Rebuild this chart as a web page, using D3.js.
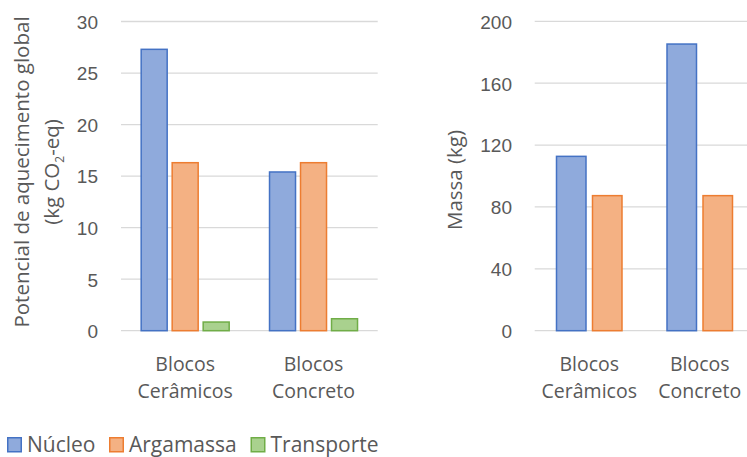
<!DOCTYPE html>
<html>
<head>
<meta charset="utf-8">
<script src="https://cdn.jsdelivr.net/npm/d3@7"></script>
<style>
  html, body { margin: 0; padding: 0; background: #fff; }
  svg { display: block; font-family: "Open Sans", "Noto Sans", sans-serif; }
</style>
</head>
<body>
<svg id="chart" width="747" height="457"></svg>
<script>
// Categories and series
const categories = ["Blocos Cerâmicos", "Blocos Concreto"];
const seriesNames = ["Núcleo", "Argamassa", "Transporte"];
// Global warming potential (kg CO2-eq)
const gwpNucleo = [27.3, 15.4];
const gwpArgamassa = [16.3, 16.3];
const gwpTransporte = [0.84, 1.16];
// Mass (kg)
const massaNucleo = [112.7, 185.3];
const massaArgamassa = [87.3, 87.3];
// Tick labels
const gwpTicks = [0, 5, 10, 15, 20, 25, 30];
const massaTicks = [0, 40, 80, 120, 160, 200];

const fills = { "Núcleo": "#8faadc", "Argamassa": "#f4b183", "Transporte": "#a9d18e" };
const strokes = { "Núcleo": "#4472c4", "Argamassa": "#ed7d31", "Transporte": "#70ad47" };
const textColor = "#595959";
const gridColor = "#d9d9d9";

const svg = d3.select("#chart");

function drawPanel(opts) {
  const { x0, x1, yTop, yBottom, domainMax, ticks, series, barW, barGap } = opts;
  const g = svg.append("g");
  const y = d3.scaleLinear().domain([0, domainMax]).range([yBottom, yTop]);
  const x = d3.scaleBand().domain(categories).range([x0, x1]);

  // gridlines
  g.append("g").selectAll("line").data(ticks).join("line")
    .attr("x1", opts.gridX0 ?? x0).attr("x2", opts.gridX1 ?? x1)
    .attr("y1", d => y(d)).attr("y2", d => y(d))
    .attr("stroke", gridColor).attr("stroke-width", 1.3);

  // y tick labels via axis
  const axis = d3.axisLeft(y).tickValues(ticks).tickSize(0).tickPadding(0);
  const ag = g.append("g").attr("transform", `translate(${opts.tickX},0)`).call(axis);
  ag.select(".domain").remove();
  ag.selectAll("text").attr("fill", textColor).style("font-size", "19px")
    .attr("dy", "0.36em");

  // bars
  const n = series.length;
  const groupW = n * barW + (n - 1) * barGap;
  series.forEach((s, i) => {
    g.append("g").selectAll("rect").data(s.values).join("rect")
      .attr("x", (d, j) => x(categories[j]) + x.bandwidth() / 2 - groupW / 2 + i * (barW + barGap) + 0.75)
      .attr("width", barW - 1.5)
      .attr("y", d => y(d))
      .attr("height", d => y(0) - y(d))
      .attr("fill", fills[s.name])
      .attr("stroke", strokes[s.name])
      .attr("stroke-width", 1.5);
  });

  // category labels (two lines)
  const cl = g.append("g").selectAll("text").data(categories).join("text")
    .attr("x", d => x(d) + x.bandwidth() / 2)
    .attr("y", yBottom + 40)
    .attr("text-anchor", "middle")
    .attr("fill", textColor)
    .style("font-size", "19.5px");
  cl.each(function (d) {
    const parts = d.split(" ");
    const t = d3.select(this);
    t.append("tspan").attr("x", t.attr("x")).attr("dy", 0).text(parts[0]);
    t.append("tspan").attr("x", t.attr("x")).attr("dy", 27).text(parts.slice(1).join(" "));
  });
  return { x, y };
}

// Left panel: global warming potential
drawPanel({
  x0: 121, x1: 377.7, yTop: 21.5, yBottom: 330.7, domainMax: 30,
  ticks: gwpTicks, tickX: 98,
  barW: 27.5, barGap: 3.5,
  series: [
    { name: "Núcleo", values: gwpNucleo },
    { name: "Argamassa", values: gwpArgamassa },
    { name: "Transporte", values: gwpTransporte }
  ]
});

// Right panel: mass
drawPanel({
  x0: 534, x1: 755, gridX0: 534.7, gridX1: 747, yTop: 21.3, yBottom: 330.7, domainMax: 200,
  ticks: massaTicks, tickX: 512,
  barW: 31, barGap: 5,
  series: [
    { name: "Núcleo", values: massaNucleo },
    { name: "Argamassa", values: massaArgamassa }
  ]
});

// Axis titles
const t1 = svg.append("text")
  .attr("transform", "translate(29,172) rotate(-90)")
  .attr("text-anchor", "middle").attr("fill", textColor).style("font-size", "20.5px");
t1.append("tspan").attr("x", 0).attr("dy", 0).text("Potencial de aquecimento global");
const l2 = t1.append("tspan").attr("x", 0).attr("dy", 30);
l2.append("tspan").text("(kg CO");
l2.append("tspan").attr("dy", 5).style("font-size", "12px").text("2");
l2.append("tspan").attr("dy", -5).text("-eq)");

svg.append("text")
  .attr("transform", "translate(462,180) rotate(-90)")
  .attr("text-anchor", "middle").attr("fill", textColor).style("font-size", "20.5px")
  .text("Massa (kg)");

// Legend
const legend = svg.append("g").attr("transform", "translate(7,437)");
const legendX = [0, 102, 243.5];
seriesNames.forEach((name, i) => {
  const lg = legend.append("g").attr("transform", `translate(${legendX[i]},0)`);
  lg.append("rect").attr("x", 0.75).attr("y", 0.75).attr("width", 13.5).attr("height", 14)
    .attr("fill", fills[name]).attr("stroke", strokes[name]).attr("stroke-width", 1.5);
  lg.append("text").attr("x", 20).attr("y", 15).attr("fill", textColor)
    .style("font-size", "21px").text(name);
});
</script>
</body>
</html>
